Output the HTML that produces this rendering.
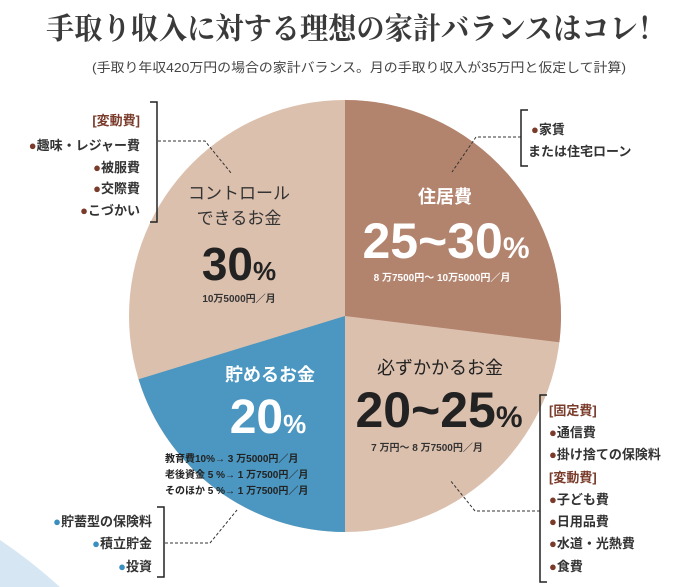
<!DOCTYPE html>
<html><head><meta charset="utf-8"><style>
html,body{margin:0;padding:0;background:#fff;}
svg{display:block;}
text{font-family:"Liberation Sans","Noto Sans CJK JP",sans-serif;}
</style></head><body>
<svg width="698" height="587" viewBox="0 0 698 587" xmlns="http://www.w3.org/2000/svg">
<rect width="698" height="587" fill="#fff"/>
<path d="M0 540 Q30 560 60 587 L0 587 Z" fill="#d6e7f3"/>
<text x="356" y="39" text-anchor="middle" font-size="30" font-weight="bold" fill="#3a3a3a" textLength="620" lengthAdjust="spacingAndGlyphs" style="font-family:'Noto Serif CJK SC',serif">手取り収入に対する理想の家計バランスはコレ！</text>
<text x="359" y="72" text-anchor="middle" font-size="13" fill="#444" textLength="534" lengthAdjust="spacingAndGlyphs">(手取り年収420万円の場合の家計バランス。月の手取り収入が35万円と仮定して計算)</text>
<circle cx="345" cy="316" r="216" fill="#dcc0ae"/>
<path d="M345 316 L345 100 A216 216 0 0 1 559.4 342.3 Z" fill="#b2836d"/>
<path d="M345 316 L345 532 A216 216 0 0 1 138.6 379.2 Z" fill="#4b97c1"/>
<g stroke="#333" stroke-width="1" fill="none" stroke-dasharray="3,2">
<path d="M158 141 L205 141 L231 173"/>
<path d="M521 137 L476 137 L452 172"/>
<path d="M165 543 L210 543 L237 510"/>
<path d="M540 511 L475 511 L450 480"/>
</g>
<g stroke="#222" stroke-width="1.5" fill="none">
<path d="M150 102 L157 102 L157 222 L150 222"/>
<path d="M528 110 L521 110 L521 166 L528 166"/>
<path d="M157 507 L164 507 L164 577 L157 577"/>
<path d="M547 395 L540 395 L540 582 L547 582"/>
</g>
<g font-size="13" font-weight="bold" fill="#333" text-anchor="end">
<text x="140" y="125" fill="#7a3b2a">[変動費]</text>
<text x="140" y="150"><tspan fill="#7a3b2a">●</tspan>趣味・レジャー費</text>
<text x="140" y="172"><tspan fill="#7a3b2a">●</tspan>被服費</text>
<text x="140" y="193"><tspan fill="#7a3b2a">●</tspan>交際費</text>
<text x="140" y="215"><tspan fill="#7a3b2a">●</tspan>こづかい</text>
</g>
<g font-size="13" font-weight="bold" fill="#333">
<text x="531" y="134"><tspan fill="#7a3b2a">●</tspan>家賃</text>
<text x="528" y="156">または住宅ローン</text>
</g>
<g font-size="13" font-weight="bold" fill="#333" text-anchor="end">
<text x="152" y="526"><tspan fill="#3a8fbf">●</tspan>貯蓄型の保険料</text>
<text x="152" y="548"><tspan fill="#3a8fbf">●</tspan>積立貯金</text>
<text x="152" y="571"><tspan fill="#3a8fbf">●</tspan>投資</text>
</g>
<g font-size="13" font-weight="bold" fill="#333">
<text x="549" y="415" fill="#7a3b2a">[固定費]</text>
<text x="549" y="437"><tspan fill="#7a3b2a">●</tspan>通信費</text>
<text x="549" y="459"><tspan fill="#7a3b2a">●</tspan>掛け捨ての保険料</text>
<text x="549" y="482" fill="#7a3b2a">[変動費]</text>
<text x="549" y="504"><tspan fill="#7a3b2a">●</tspan>子ども費</text>
<text x="549" y="526"><tspan fill="#7a3b2a">●</tspan>日用品費</text>
<text x="549" y="548"><tspan fill="#7a3b2a">●</tspan>水道・光熱費</text>
<text x="549" y="571"><tspan fill="#7a3b2a">●</tspan>食費</text>
</g>
<g text-anchor="middle">
<text x="239" y="199" font-size="17" fill="#333">コントロール</text>
<text x="239" y="224" font-size="17" fill="#333">できるお金</text>
<text x="239" y="280" font-size="46" font-weight="bold" fill="#222">30<tspan font-size="26">%</tspan></text>
<text x="239" y="302" font-size="10" font-weight="bold" fill="#333">10万5000円／月</text>
<text x="445" y="203" font-size="18" font-weight="bold" fill="#fff">住居費</text>
<text x="446" y="258" font-size="50" font-weight="bold" fill="#fff">25~30<tspan font-size="30">%</tspan></text>
<text x="442" y="281" font-size="10" font-weight="bold" fill="#fff">8 万7500円～ 10万5000円／月</text>
<text x="270" y="381" font-size="18" font-weight="bold" fill="#fff">貯めるお金</text>
<text x="268" y="433" font-size="48" font-weight="bold" fill="#fff">20<tspan font-size="26">%</tspan></text>
<text x="440" y="374" font-size="18" fill="#222">必ずかかるお金</text>
<text x="439" y="427" font-size="50" font-weight="bold" fill="#222">20~25<tspan font-size="30">%</tspan></text>
<text x="427" y="451" font-size="10" font-weight="bold" fill="#333">7 万円～ 8 万7500円／月</text>
</g>
<g font-size="10" font-weight="bold" fill="#222">
<text x="165" y="462">教育費10%→ 3 万5000円／月</text>
<text x="165" y="478">老後資金 5 %→ 1 万7500円／月</text>
<text x="165" y="494">そのほか 5 %→ 1 万7500円／月</text>
</g>
</svg>
</body></html>
